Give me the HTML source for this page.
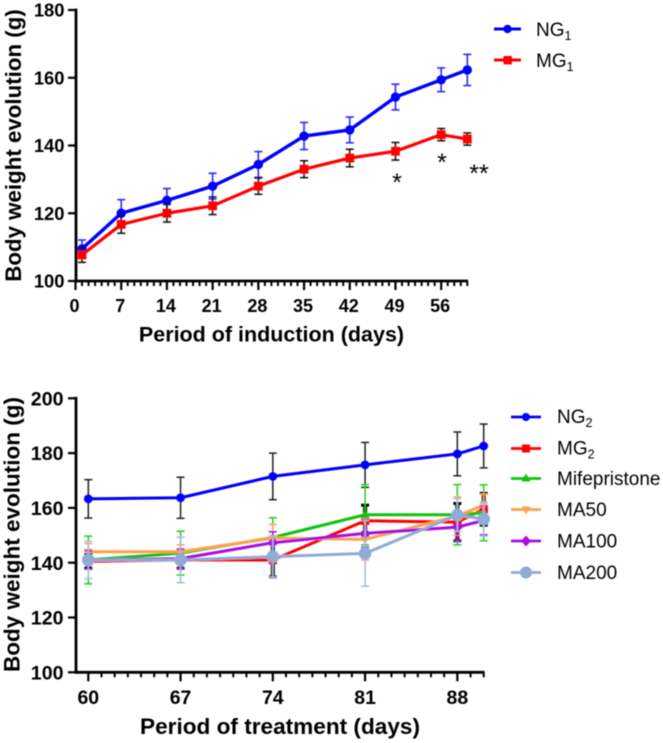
<!DOCTYPE html>
<html>
<head>
<meta charset="utf-8">
<title>Body weight evolution</title>
<style>
html,body{margin:0;padding:0;background:#fff;}
svg{display:block;font-family:"Liberation Sans",Arial,sans-serif;}
</style>
</head>
<body>
<svg id="fig" width="663" height="743" viewBox="0 0 663 743" xmlns="http://www.w3.org/2000/svg">
<defs><filter id="soft" x="-5%" y="-5%" width="110%" height="110%"><feGaussianBlur stdDeviation="0.45"/></filter></defs>
<g id="root" filter="url(#soft)">
<g id="chart1"></g>
<g id="chart2"></g>

<text transform="translate(21,145.5) rotate(-90)" text-anchor="middle" font-size="22.3" font-weight="700">Body weight evolution (g)</text>
<text x="271.5" y="341.5" text-anchor="middle" font-size="21.5" font-weight="700">Period of induction (days)</text>
<text transform="translate(19.5,534.5) rotate(-90)" text-anchor="middle" font-size="22.5" font-weight="700">Body weight evolution (g)</text>
<text x="280" y="734" text-anchor="middle" font-size="22.6" font-weight="700">Period of treatment (days)</text>

<text x="397" y="191" text-anchor="middle" font-size="25" font-weight="400">*</text>
<text x="442" y="171" text-anchor="middle" font-size="25" font-weight="400">*</text>
<text x="479" y="182" text-anchor="middle" font-size="25" font-weight="400">**</text>
<circle cx="392" cy="162" r="0.5" fill="#777"/>

<g>
  <g>
    <line x1="494" y1="29" x2="521" y2="29" stroke="#0000ff" stroke-width="3"/>
    <circle cx="507.5" cy="29" r="4.2" fill="#0000ff"/>
    <text x="536" y="36" font-size="19">NG<tspan font-size="12.5" dy="4">1</tspan></text>
  </g>
  <g>
    <line x1="494" y1="60" x2="521" y2="60" stroke="#ff0000" stroke-width="3"/>
    <rect x="503.5" y="56" width="8.4" height="8.4" fill="#ff0000"/>
    <text x="536" y="67" font-size="19">MG<tspan font-size="12.5" dy="4">1</tspan></text>
  </g>
</g>

<g>
  <g>
    <line x1="511" y1="417" x2="541" y2="417" stroke="#0000ff" stroke-width="2.8"/>
    <circle cx="526" cy="417" r="4" fill="#0000ff"/>
    <text x="557" y="423" font-size="19">NG<tspan font-size="12.5" dy="4">2</tspan></text>
  </g>
  <g>
    <line x1="511" y1="448.5" x2="541" y2="448.5" stroke="#ff0000" stroke-width="2.8"/>
    <rect x="522" y="444.5" width="8" height="8" fill="#ff0000"/>
    <text x="557" y="454.5" font-size="19">MG<tspan font-size="12.5" dy="4">2</tspan></text>
  </g>
  <g>
    <line x1="511" y1="478.5" x2="541" y2="478.5" stroke="#11c411" stroke-width="2.8"/>
    <path d="M526 473.5 L530.5 481.5 L521.5 481.5 Z" fill="#11c411"/>
    <text x="557" y="485" font-size="19">Mifepristone</text>
  </g>
  <g>
    <line x1="511" y1="509.5" x2="541" y2="509.5" stroke="#ffa04d" stroke-width="2.8"/>
    <path d="M526 514.5 L530.5 506.5 L521.5 506.5 Z" fill="#ffa04d"/>
    <text x="557" y="516" font-size="19">MA50</text>
  </g>
  <g>
    <line x1="511" y1="541" x2="541" y2="541" stroke="#a90fe0" stroke-width="2.8"/>
    <path d="M526 535.5 L531 541 L526 546.5 L521 541 Z" fill="#a90fe0"/>
    <text x="557" y="547.5" font-size="19">MA100</text>
  </g>
  <g>
    <line x1="511" y1="572.5" x2="541" y2="572.5" stroke="#8fabd6" stroke-width="2.8"/>
    <circle cx="526" cy="572.5" r="6" fill="#8fabd6"/>
    <text x="557" y="579" font-size="19">MA200</text>
  </g>
</g>
</g>
</svg>
<script>
// ---- Induction chart data ----
var induction_days = [1, 7, 14, 21, 28, 35, 42, 49, 56, 60];
var ng1_values = [109.5, 120, 123.8, 128, 134.4, 142.8, 144.6, 154.3, 159.4, 162.3];
var ng1_errors = [2.6, 4, 3.5, 3.8, 3.8, 4, 3.8, 3.8, 3.5, 4.6];
var mg1_values = [107.7, 116.7, 120, 122.2, 128, 133, 136.3, 138.3, 143.2, 141.9];
var mg1_errors = [2.2, 2.6, 2.6, 2.6, 2.4, 2.5, 2.6, 2.6, 1.8, 1.8];
var induction_x_ticks = [0, 7, 14, 21, 28, 35, 42, 49, 56];
var induction_y_ticks = [100, 120, 140, 160, 180];

// ---- Treatment chart data ----
var treatment_days = [60, 67, 74, 81, 88, 90];
var ng2_values = [163.3, 163.7, 171.5, 175.7, 179.7, 182.6];
var ng2_errors = [7, 7.5, 8.5, 8.2, 8, 8];
var mg2_values = [140.5, 141, 141, 155.3, 154.8, 159.5];
var mg2_errors = [2.5, 3, 6.2, 5.7, 6.8, 5.8];
var mife_values = [141, 143.5, 149.2, 157.5, 157.5, 158.2];
var mife_errors = [8.7, 8, 7.2, 11, 11, 10.2];
var ma50_values = [144, 144, 149, 148.5, 157, 161];
var ma50_errors = [3, 2.5, 5, 7.5, 7, 4];
var ma100_values = [141, 141.5, 147.3, 150.7, 153, 155.4];
var ma100_errors = [3.3, 3.5, 4, 5, 5, 5.2];
var ma200_values = [141, 141, 142.2, 143.4, 157.4, 155.9];
var ma200_errors = [6.8, 8.3, 7.5, 12, 6, 6.2];
var treatment_x_ticks = [60, 67, 74, 81, 88];
var treatment_y_ticks = [100, 120, 140, 160, 180, 200];

var NS = 'http://www.w3.org/2000/svg';
function make(parent, tag) {
  var el = document.createElementNS(NS, tag);
  parent.appendChild(el);
  return el;
}
function seg(parent, x1, y1, x2, y2, color, w, name) {
  var el = make(parent, 'line');
  
  
  el.setAttribute('x1', x1);
  el.setAttribute('y1', y1);
  el.setAttribute('x2', x2);
  el.setAttribute('y2', y2);
  el.setAttribute('stroke', color);
  el.setAttribute('stroke-width', w);
  return el;
}
function label(parent, x, y, txt, size, anchor, name) {
  var el = make(parent, 'text');
  
  
  el.setAttribute('x', x);
  el.setAttribute('y', y);
  el.setAttribute('font-size', size);
  el.setAttribute('font-weight', '700');
  el.setAttribute('text-anchor', anchor);
  el.textContent = txt;
  return el;
}
function drawAxes(g, cfg) {
  var i, d;
  var axis = make(g, 'g');
  
  
  seg(axis, cfg.x0, cfg.y(cfg.yTicks[cfg.yTicks.length - 1]) - 1.4, cfg.x0, cfg.y(cfg.yTicks[0]) + 1.4, '#000', 2.8, 'y-axis-line');
  seg(axis, cfg.x0, cfg.y(cfg.yTicks[0]), cfg.xEnd, cfg.y(cfg.yTicks[0]), '#000', 2.8, 'x-axis-line');
  for (i = 0; i < cfg.yTicks.length; i++) {
    seg(axis, cfg.x0 - 8, cfg.y(cfg.yTicks[i]), cfg.x0, cfg.y(cfg.yTicks[i]), '#000', 2.2, 'y-tick');
    label(axis, cfg.yLabelX, cfg.y(cfg.yTicks[i]) + cfg.yFont * 0.36, String(cfg.yTicks[i]), cfg.yFont, 'end', 'y-tick-label');
  }
  for (d = cfg.minorStart; d <= cfg.minorEnd; d++) {
    if (cfg.xTicks.indexOf(d) < 0) {
      seg(axis, cfg.x(d), cfg.y(cfg.yTicks[0]), cfg.x(d), cfg.y(cfg.yTicks[0]) + 5, '#000', 2, 'x-minor-tick');
    }
  }
  for (i = 0; i < cfg.xTicks.length; i++) {
    seg(axis, cfg.x(cfg.xTicks[i]), cfg.y(cfg.yTicks[0]), cfg.x(cfg.xTicks[i]), cfg.y(cfg.yTicks[0]) + 9, '#000', 2.2, 'x-tick');
    label(axis, cfg.x(cfg.xTicks[i]) + cfg.xLabelShift, cfg.xLabelY, String(cfg.xTicks[i]), cfg.xFont, 'middle', 'x-tick-label');
  }
}
function drawErrors(g, s, cfg) {
  var eg = make(g, 'g');
  
  
  for (var i = 0; i < s.values.length; i++) {
    var px = cfg.x(s.days[i]);
    var hi = cfg.y(s.values[i] + s.errors[i]);
    var lo = cfg.y(s.values[i] - s.errors[i]);
    seg(eg, px, hi, px, lo, s.errColor, s.errWidth, 'error-bar');
    seg(eg, px - 4, hi, px + 4, hi, s.errColor, s.capWidth, 'error-cap-upper');
    seg(eg, px - 4, lo, px + 4, lo, s.errColor, s.capWidth, 'error-cap-lower');
  }
}
function drawLine(g, s, cfg) {
  var pts = [];
  for (var i = 0; i < s.values.length; i++) {
    pts.push(cfg.x(s.days[i]) + ',' + cfg.y(s.values[i]));
  }
  var line = make(g, 'polyline');
  
  
  line.setAttribute('points', pts.join(' '));
  line.setAttribute('fill', 'none');
  line.setAttribute('stroke', s.color);
  line.setAttribute('stroke-width', s.lineWidth);
  line.setAttribute('stroke-linejoin', 'round');
}
function drawMarkers(g, s, cfg) {
  for (var i = 0; i < s.values.length; i++) {
    var px = cfg.x(s.days[i]);
    var py = cfg.y(s.values[i]);
    var r = s.size;
    var m;
    if (s.shape === 'circle') {
      m = make(g, 'circle');
      m.setAttribute('cx', px);
      m.setAttribute('cy', py);
      m.setAttribute('r', r);
    } else if (s.shape === 'square') {
      m = make(g, 'rect');
      m.setAttribute('x', px - r);
      m.setAttribute('y', py - r);
      m.setAttribute('width', 2 * r);
      m.setAttribute('height', 2 * r);
    } else {
      m = make(g, 'path');
      var d;
      if (s.shape === 'up') {
        d = 'M' + px + ' ' + (py - r) + 'L' + (px + r) + ' ' + (py + r * 0.7) + 'L' + (px - r) + ' ' + (py + r * 0.7) + 'Z';
      } else if (s.shape === 'down') {
        d = 'M' + px + ' ' + (py + r) + 'L' + (px + r) + ' ' + (py - r * 0.7) + 'L' + (px - r) + ' ' + (py - r * 0.7) + 'Z';
      } else {
        d = 'M' + px + ' ' + (py - r) + 'L' + (px + r) + ' ' + py + 'L' + px + ' ' + (py + r) + 'L' + (px - r) + ' ' + py + 'Z';
      }
      m.setAttribute('d', d);
    }
    m.setAttribute('fill', s.color);
    
    
  }
}
function drawSeries(g, list, cfg) {
  for (var i = 0; i < list.length; i++) {
    var sg = make(g, 'g');
    
    
    drawErrors(sg, list[i], cfg);
    drawLine(sg, list[i], cfg);
    drawMarkers(sg, list[i], cfg);
  }
}

// Induction chart
var cfg1 = {
  id: 'induction',
  x: function (d) { return 75.5 + 6.53 * d; },
  y: function (v) { return 281 - (v - 100) * 3.3875; },
  x0: 76, xEnd: 468,
  minorStart: 1, minorEnd: 60,
  xTicks: induction_x_ticks, yTicks: induction_y_ticks,
  yLabelX: 64.5, yFont: 18.4, xFont: 18, xLabelY: 312, xLabelShift: -1
};
var g1 = document.getElementById('chart1');
drawAxes(g1, cfg1);
drawSeries(g1, [
  {name: 'ng1', days: induction_days, values: ng1_values, errors: ng1_errors, color: '#0000ff', errColor: '#2a2aff', errWidth: 1.6, capWidth: 1.6, lineWidth: 3.4, shape: 'circle', size: 4.7},
  {name: 'mg1', days: induction_days, values: mg1_values, errors: mg1_errors, color: '#ff0000', errColor: '#111', errWidth: 1.5, capWidth: 1.5, lineWidth: 3.2, shape: 'square', size: 4.4}
], cfg1);

// Treatment chart
var cfg2 = {
  id: 'treatment',
  x: function (d) { return 88.3 + (d - 60) * 13.18; },
  y: function (v) { return 672.3 - (v - 100) * 2.74; },
  x0: 76, xEnd: 484.5,
  minorStart: 60, minorEnd: 90,
  xTicks: treatment_x_ticks, yTicks: treatment_y_ticks,
  yLabelX: 63.5, yFont: 19.6, xFont: 19.5, xLabelY: 704, xLabelShift: 0
};
var g2 = document.getElementById('chart2');
drawAxes(g2, cfg2);
drawSeries(g2, [
  {name: 'ng2', days: treatment_days, values: ng2_values, errors: ng2_errors, color: '#0000ff', errColor: '#222', errWidth: 1.5, capWidth: 1.5, lineWidth: 3, shape: 'circle', size: 4.4},
  {name: 'mg2', days: treatment_days, values: mg2_values, errors: mg2_errors, color: '#ff0000', errColor: '#000', errWidth: 4, capWidth: 3, lineWidth: 3, shape: 'square', size: 4.2},
  {name: 'mifepristone', days: treatment_days, values: mife_values, errors: mife_errors, color: '#11c411', errColor: '#22cc22', errWidth: 1.5, capWidth: 1.5, lineWidth: 3, shape: 'up', size: 4.5},
  {name: 'ma50', days: treatment_days, values: ma50_values, errors: ma50_errors, color: '#ffa04d', errColor: '#ffa04d', errWidth: 1.5, capWidth: 1.5, lineWidth: 3, shape: 'down', size: 4.5},
  {name: 'ma100', days: treatment_days, values: ma100_values, errors: ma100_errors, color: '#a90fe0', errColor: '#a90fe0', errWidth: 1.5, capWidth: 1.5, lineWidth: 3, shape: 'diamond', size: 5.5},
  {name: 'ma200', days: treatment_days, values: ma200_values, errors: ma200_errors, color: '#8fabd6', errColor: '#a3bcdf', errWidth: 1.5, capWidth: 1.5, lineWidth: 3, shape: 'circle', size: 6.3}
], cfg2);
</script>
</body>
</html>
